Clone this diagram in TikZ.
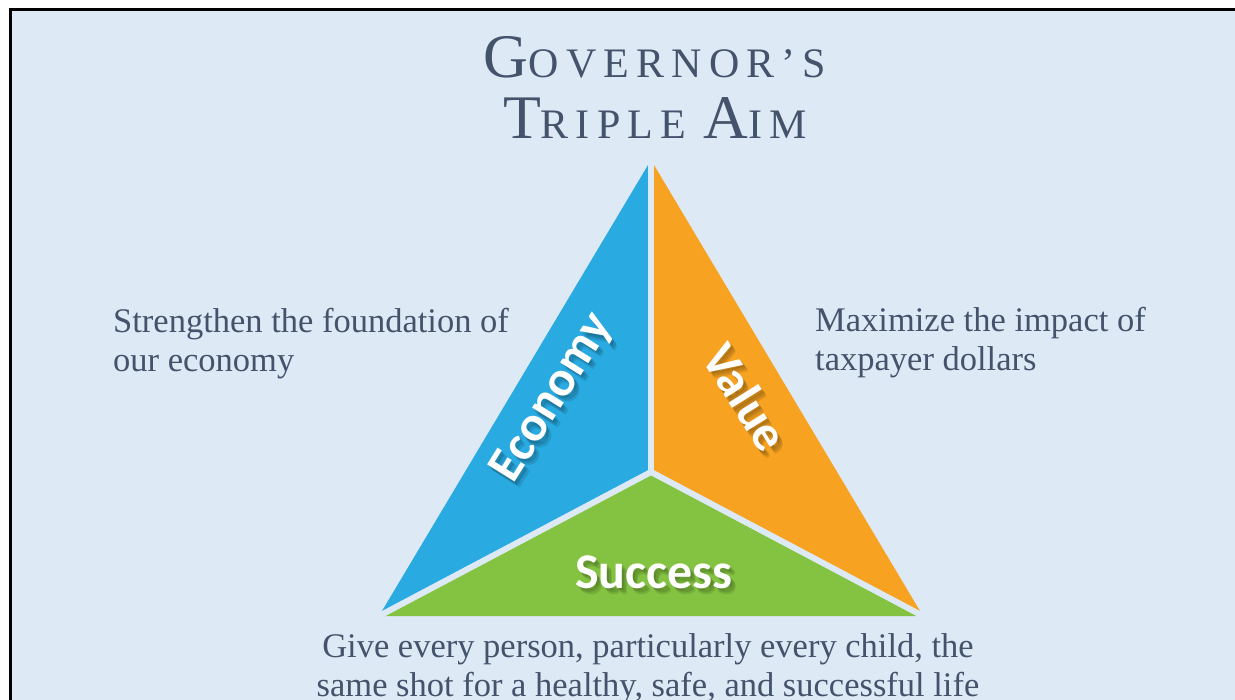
\documentclass[tikz,border=0pt]{standalone}
\usepackage{fontspec}
\setmainfont{Liberation Serif}
\newfontfamily\titlefont[LetterSpace=17]{Liberation Serif}
\newfontfamily\labelfont{Carlito}
\definecolor{bgblue}{HTML}{DDE9F5}
\definecolor{ecoblue}{HTML}{29ABE2}
\definecolor{valorange}{HTML}{F7A221}
\definecolor{sucgreen}{HTML}{84C341}
\definecolor{txtcol}{HTML}{44536B}
\tikzset{
  titletext/.style={inner sep=0pt, text=txtcol, font=\titlefont},
  bodytext/.style={inner sep=0pt, text=txtcol, align=left, font=\fontsize{34.5}{39}\selectfont},
  lbl/.style={inner sep=0pt, text=white, font=\labelfont\bfseries\fontsize{50}{50}\selectfont},
  lblshadow/.style={lbl, text=black, text opacity=0.11},
  gap/.style={draw=bgblue, line width=6pt, line cap=round}
}
\begin{document}
\begin{tikzpicture}[x=1pt,y=-1pt]
\useasboundingbox (0,0) rectangle (1235,700);
\fill[white] (0,0) rectangle (1235,700);
\fill[bgblue] (10,10) rectangle (1235,700);
\draw[line width=3pt] (10,700) -- (10,10) -- (1235,10);
% title
\node[titletext, anchor=base] (t1) at (655,78) {\fontsize{62}{62}\selectfont G\fontsize{42}{42}\selectfont OVERNOR’S};
\node[titletext, anchor=base] (t2) at (655,139) {\fontsize{62}{62}\selectfont T\fontsize{42}{42}\selectfont RIPLE \fontsize{62}{62}\selectfont A\fontsize{42}{42}\selectfont IM};
% triangle
\coordinate (A) at (651,160);
\coordinate (B) at (379,616);
\coordinate (C) at (923,616);
\coordinate (O) at (651,472);
\fill[ecoblue] (A) -- (B) -- (O) -- cycle;
\fill[valorange] (A) -- (C) -- (O) -- cycle;
\fill[sucgreen] (B) -- (C) -- (O) -- cycle;
\draw[gap] (O) -- (A);
\draw[gap] (O) -- (B);
\draw[gap] (O) -- (C);
% labels with soft shadows
\foreach \d in {2,3.5,5}{
  \node[lblshadow, rotate=58] at (553+\d,398+1.3*\d) {Economy};
  \node[lblshadow, rotate=-58] at (746+\d,397+1.3*\d) {Value};
  \node[lblshadow] at (654+\d,572+1.3*\d) {Success};
}
\node[lbl, rotate=58] (eco) at (553,398) {Economy};
\node[lbl, rotate=-58] (val) at (746,397) {Value};
\node[lbl] (suc) at (654,572) {Success};
% texts (anchor at baseline of last line)
\node[bodytext, anchor=base west] (ltext) at (113,372) {Strengthen the foundation of\\our economy};
\node[bodytext, anchor=base west] (rtext) at (815,371) {Maximize the impact of\\taxpayer dollars};
\node[bodytext, align=center, anchor=base] (btext) at (648,696) {Give every person, particularly every child, the\\same shot for a healthy, safe, and successful life};
\end{tikzpicture}
\end{document}
